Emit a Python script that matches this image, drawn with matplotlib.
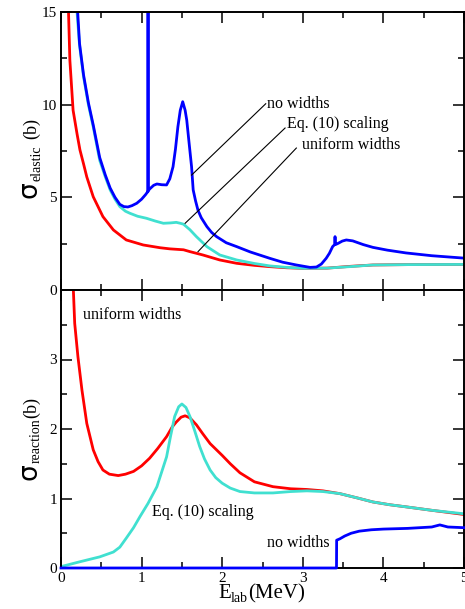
import numpy as np
import matplotlib
matplotlib.use("Agg")
import matplotlib.pyplot as plt

plt.rcParams['font.family'] = 'serif'
plt.rcParams['font.serif'] = ['Liberation Serif', 'DejaVu Serif']

W, H = 465, 609

# elastic cross section (b) vs E_lab (MeV)
E_el_uni = [0.09, 0.11, 0.15, 0.2, 0.235, 0.28, 0.32, 0.4, 0.52, 0.65, 0.81, 1.02, 1.23, 1.35,
            1.52, 1.6, 1.76, 1.97, 2.18, 2.4, 2.59, 2.8, 3.0, 3.3, 3.6, 3.87, 4.3, 5.0]
s_el_uni = [15.5, 12.4, 9.7, 8.4, 7.56, 6.8, 6.1, 5.03, 3.96, 3.24, 2.70, 2.43, 2.28, 2.22,
            2.17, 2.07, 1.89, 1.62, 1.44, 1.33, 1.26, 1.2, 1.17, 1.18, 1.28, 1.35, 1.37, 1.38]

E_el_eq = [0.19, 0.23, 0.28, 0.34, 0.40, 0.48, 0.55, 0.61, 0.67, 0.73, 0.80, 0.855, 0.95, 1.06,
           1.17, 1.27, 1.36, 1.43, 1.48, 1.52, 1.6, 1.68, 1.81, 1.97, 2.18, 2.4, 2.59,
           2.8, 3.0, 3.3, 3.58, 3.87, 4.3, 5.0]
s_el_eq = [15.5, 13.2, 11.5, 10.0, 8.8, 7.0, 6.1, 5.4, 4.9, 4.5, 4.25, 4.14, 3.98, 3.87,
           3.72, 3.6, 3.62, 3.65, 3.6, 3.55, 3.25, 2.88, 2.34, 1.89, 1.62, 1.43, 1.3,
           1.22, 1.17, 1.18, 1.26, 1.35, 1.37, 1.38]

E_el_now = [0.2, 0.23, 0.28, 0.34, 0.40, 0.48, 0.55, 0.61, 0.67, 0.73, 0.78, 0.83, 0.88, 0.94,
            1.0, 1.05, 1.075, 1.079, 1.08, 1.081, 1.1, 1.15, 1.19, 1.25, 1.31, 1.35, 1.39,
            1.42, 1.45, 1.48, 1.51, 1.54, 1.56, 1.59, 1.62, 1.64, 1.67, 1.70, 1.74, 1.81,
            1.87, 1.93, 2.05, 2.18, 2.35, 2.59, 2.75, 2.92, 3.09, 3.17, 3.23,
            3.29, 3.33, 3.37, 3.395, 3.40, 3.405, 3.44, 3.49, 3.54, 3.62, 3.75, 3.87, 4.05,
            4.28, 4.6, 5.0]
s_el_now = [15.5, 13.3, 11.6, 10.1, 8.9, 7.15, 6.2, 5.5, 5.0, 4.62, 4.5, 4.48, 4.55, 4.68,
            4.9, 5.15, 5.3, 5.3, 20.0, 5.35, 5.45, 5.65, 5.72, 5.68, 5.67, 6.0, 6.65,
            7.6, 8.8, 9.7, 10.16, 9.7, 9.17, 7.9, 6.65, 5.4, 4.8, 4.3, 3.9, 3.42,
            3.1, 2.88, 2.55, 2.34, 2.05, 1.71, 1.5, 1.35, 1.22, 1.24, 1.4,
            1.71, 1.98, 2.34, 2.45, 2.88, 2.45, 2.52, 2.64, 2.7, 2.65, 2.45, 2.3, 2.15,
            2.0, 1.85, 1.72]

# reaction cross section (b)
E_re_uni = [0.15, 0.17, 0.21, 0.26, 0.32, 0.40, 0.46, 0.52, 0.6, 0.71, 0.8, 0.90, 1.0, 1.10,
            1.2, 1.31, 1.38, 1.43, 1.49, 1.54, 1.6, 1.68, 1.76, 1.85, 2.0, 2.1, 2.22, 2.4,
            2.63, 2.85, 3.05, 3.25, 3.46, 3.67, 3.87, 4.08, 4.28, 4.6, 5.0]
s_re_uni = [4.1, 3.52, 3.04, 2.56, 2.08, 1.70, 1.53, 1.41, 1.35, 1.33, 1.35, 1.39, 1.47, 1.58,
            1.72, 1.89, 2.03, 2.10, 2.17, 2.19, 2.16, 2.06, 1.93, 1.79, 1.62, 1.5, 1.37, 1.24,
            1.17, 1.14, 1.13, 1.11, 1.07, 1.01, 0.95, 0.91, 0.88, 0.83, 0.77]

E_re_eq = [0, 0.235, 0.48, 0.65, 0.73, 0.81, 0.9, 0.98, 1.08, 1.19, 1.31, 1.36, 1.41, 1.46,
           1.50, 1.55, 1.60, 1.66, 1.72, 1.78, 1.85, 1.92, 2.0, 2.1, 2.22, 2.4, 2.63, 2.85,
           3.05, 3.25, 3.46, 3.67, 3.87, 4.08, 4.28, 4.6, 5.0]
s_re_eq = [0.02, 0.09, 0.16, 0.23, 0.3, 0.43, 0.58, 0.74, 0.93, 1.17, 1.60, 1.9, 2.18, 2.32,
           2.36, 2.31, 2.18, 1.97, 1.75, 1.57, 1.41, 1.3, 1.22, 1.15, 1.10, 1.08, 1.08, 1.1,
           1.11, 1.1, 1.07, 1.01, 0.95, 0.91, 0.88, 0.83, 0.78]

E_re_now = [0, 3.418, 3.42, 3.46, 3.52, 3.6, 3.7, 3.85, 4.0, 4.3, 4.6, 4.7, 4.8, 5.0]
s_re_now = [0, 0, 0.40, 0.42, 0.46, 0.50, 0.53, 0.55, 0.56, 0.57, 0.59, 0.62, 0.59, 0.58]

RED, CYAN, BLUE = '#ff0000', '#40e0d0', '#0000ff'

fig = plt.figure(figsize=(W / 100, H / 100), dpi=100)
l, r = 61 / W, 464 / W
ax1 = fig.add_axes([l, 1 - 290 / H, r - l, 278 / H])
ax2 = fig.add_axes([l, 1 - 568 / H, r - l, 278 / H])

lw = 2.0
ax1.plot(E_el_uni, s_el_uni, color=RED, lw=lw)
ax1.plot(E_el_eq, s_el_eq, color=CYAN, lw=lw)
ax1.plot(E_el_now, s_el_now, color=BLUE, lw=lw)

ax2.plot(E_re_uni, s_re_uni, color=RED, lw=lw)
ax2.plot(E_re_eq, s_re_eq, color=CYAN, lw=lw)
ax2.plot(E_re_now, s_re_now, color=BLUE, lw=lw, zorder=5, clip_on=False)

ax1.set_xlim(0, 5)
ax1.set_ylim(0, 15)
ax2.set_xlim(0, 5)
ax2.set_ylim(0, 4)

ax1.set_xticks(np.arange(0, 6, 1))
ax1.set_xticks(np.arange(0, 5.1, 0.5), minor=True)
ax1.set_yticks([0, 5, 10, 15])
ax1.set_yticks(np.arange(0, 15.1, 2.5), minor=True)
ax1.set_xticklabels([])

ax2.set_xticks(np.arange(0, 6, 1))
ax2.set_xticks(np.arange(0, 5.1, 0.5), minor=True)
ax2.set_yticks([0, 1, 2, 3])
ax2.set_yticks(np.arange(0, 4.1, 0.5), minor=True)

for ax in (ax1, ax2):
    for sp in ax.spines.values():
        sp.set_linewidth(1.4)
    ax.tick_params(which='both', direction='in', top=True, right=True, width=1.1,
                   labelsize=11, pad=3)
    ax.tick_params(which='major', length=8)
    ax.tick_params(which='minor', length=4)

# annotations, top panel
fs = 11.5
ax1.text(2.56, 10.04, 'no widths', fontsize=fs, va='center', ha='left')
ax1.text(2.80, 8.96, 'Eq. (10) scaling', fontsize=fs, va='center', ha='left')
ax1.text(2.99, 7.83, 'uniform widths', fontsize=fs, va='center', ha='left')
ax1.plot([2.54, 1.62], [10.05, 6.2], color='black', lw=0.8)
ax1.plot([2.78, 1.54], [8.74, 3.6], color='black', lw=0.8)
ax1.plot([2.92, 1.70], [7.66, 2.07], color='black', lw=0.8)

# annotations, bottom panel
ax2.text(0.275, 3.64, 'uniform widths', fontsize=fs, va='center', ha='left')
ax2.text(1.13, 0.80, 'Eq. (10) scaling', fontsize=fs, va='center', ha='left')
ax2.text(3.33, 0.36, 'no widths', fontsize=fs, va='center', ha='right')


def vlabel(x_px, y_px, pieces):
    # pieces: (text, size, family, baseline shift in px, gap after)
    fig.canvas.draw()
    rend = fig.canvas.get_renderer()
    y = y_px
    for s, size, fam, dx, gap in pieces:
        t = fig.text((x_px + dx) / W, 1 - y / H, s, rotation=90, rotation_mode='anchor',
                     ha='left', va='baseline', fontsize=size, family=fam)
        ext = t.get_window_extent(rend)
        y = y - ext.height - gap


vlabel(36, 198, [('σ', 19, 'DejaVu Sans', 0, 0),
                 ('elastic', 10, 'serif', 4, 7),
                 ('(b)', 13, 'serif', 0, 0)])
vlabel(36, 480, [('σ', 19, 'DejaVu Sans', 0, 0),
                 ('reaction', 10, 'serif', 4, 0),
                 ('(b)', 13, 'serif', 0, 0)])

# x label
fig.canvas.draw()
rend = fig.canvas.get_renderer()
x = 218
for s, size, dy in [('E', 15, 0), ('lab', 10, 4), ('(MeV)', 15, 0)]:
    t = fig.text(x / W, 1 - (598 + dy) / H, s, ha='left', va='baseline', fontsize=size)
    x += t.get_window_extent(rend).width

fig.savefig('out.png', dpi=100)
